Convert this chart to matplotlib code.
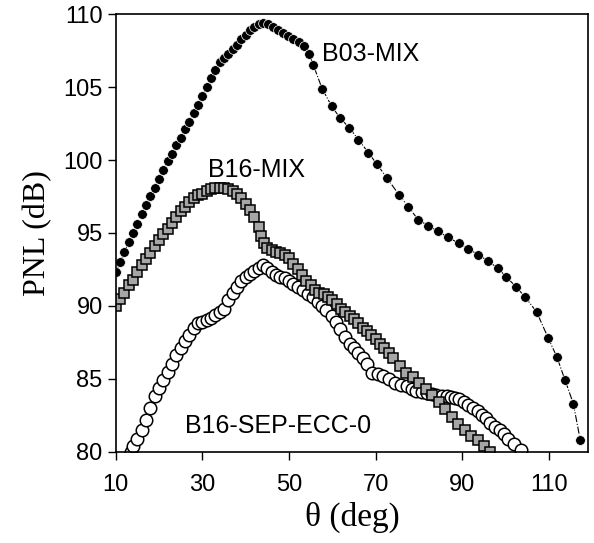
import matplotlib.pyplot as plt

# B03-MIX (filled black circles)
b03_theta = [10, 11, 12, 13, 14, 15, 16, 17, 18, 19, 20, 21, 22, 23, 24, 25, 26, 27, 28, 29,
             30, 31, 32, 33, 34, 35, 36, 37, 38, 39, 40, 41, 42, 43, 44,
             45.2, 46.2, 47.4, 48.6, 49.8, 51, 52.2, 53.4, 54.6, 55.6, 57.6, 59.8, 61.7, 63.9,
             66.0, 68.3, 70.3, 72.5, 75.4, 77.5, 79.8, 82.1, 84.4, 86.7, 89.1, 91.4, 93.7,
             95.8, 98.1, 100.1, 102.4, 104.5, 107.1, 109.8, 111.8, 113.7, 115.6, 117.2]
b03_pnl = [92.3, 93.0, 93.7, 94.4, 95.0, 95.6, 96.3, 96.9, 97.5, 98.1, 98.7, 99.3, 99.9, 100.4,
           101.0, 101.5, 102.1, 102.6, 103.2, 103.8, 104.4, 105.0, 105.6, 106.2, 106.7, 107.0,
           107.3, 107.6, 107.9, 108.3, 108.6, 108.9, 109.1, 109.3, 109.4,
           109.3, 109.1, 108.9, 108.7, 108.5, 108.3, 108.1, 107.8, 107.3, 106.5, 104.9, 103.7,
           102.9, 102.2, 101.4, 100.5, 99.7, 98.8, 97.6, 96.8, 95.9, 95.5, 95.1, 94.7, 94.3,
           93.9, 93.5, 93.1, 92.6, 92.0, 91.3, 90.6, 89.6, 87.8, 86.5, 84.9, 83.3, 80.8]

# B16-MIX (grey squares)
b16_theta = [10, 11, 12, 13, 14, 15, 16, 17, 18, 19, 20, 21, 22, 23, 24, 25, 26, 27, 28, 29,
             30, 31, 32, 33, 34, 35, 36, 37, 38, 39, 40, 41, 42, 43, 43.6, 44.2, 45, 46, 47,
             48, 49, 50, 51, 52, 53, 54, 55, 56, 57, 58, 59, 60, 61, 62, 63, 64, 65, 66, 67,
             68, 69, 70, 71, 72, 73, 74, 75.5, 77, 78.5, 80, 81.5, 83, 84.5, 86, 87.5, 89,
             90.5, 92, 93.5, 95, 96.4]
b16_pnl = [90.0, 90.5, 90.9, 91.4, 91.8, 92.3, 92.8, 93.2, 93.6, 94.1, 94.5, 94.9, 95.3, 95.7,
           96.1, 96.5, 96.8, 97.1, 97.4, 97.6, 97.7, 97.9, 98.0, 98.1, 98.1, 98.1, 98.0, 97.9,
           97.7, 97.4, 97.0, 96.6, 96.1, 95.4, 94.8, 94.3, 94.0, 93.8, 93.7, 93.6, 93.5, 93.3,
           92.9, 92.5, 92.1, 91.7, 91.4, 91.1, 90.9, 90.8, 90.6, 90.4, 90.1, 89.8, 89.6, 89.3,
           89.1, 88.8, 88.5, 88.3, 88.0, 87.7, 87.4, 87.1, 86.8, 86.4, 85.9, 85.4, 85.1, 84.7,
           84.3, 83.9, 83.4, 82.9, 82.4, 81.9, 81.5, 81.1, 80.8, 80.4, 80.0]

# B16-SEP-ECC-0 (open circles)
sep_theta = [13.4, 14, 15, 16, 17, 18, 19, 20, 21, 22, 23, 24, 25, 26, 27, 28, 29, 30, 31, 32,
             33, 34, 35, 36, 37, 38, 39, 40, 41, 42, 43, 44, 45, 46, 47, 48, 49, 50, 51, 52,
             53.3, 54.4, 55.6, 56.6, 57.5, 58.6, 59.8, 60.8, 61.7, 62.8, 64, 65, 66, 67, 67.9,
             69.1, 70.4, 71.7, 73, 74.4, 75.8, 77.1, 78.3, 79.4, 80.6, 81.8, 83, 84, 85.2, 86.4,
             87.4, 88.3, 89.3, 90.3, 91.4, 92.5, 93.5, 94.5, 95.5, 96.4, 97.6, 98.7, 99.7,
             100.6, 102, 103.5]
sep_pnl = [80.0, 80.4, 80.9, 81.5, 82.2, 83.0, 83.8, 84.4, 84.9, 85.5, 86.0, 86.6, 87.1, 87.6,
           88.0, 88.5, 88.8, 88.9, 89.0, 89.2, 89.4, 89.6, 89.8, 90.4, 90.9, 91.3, 91.7, 92.0,
           92.2, 92.4, 92.6, 92.8, 92.6, 92.3, 92.1, 92.0, 91.9, 91.7, 91.5, 91.3, 91.1, 90.8,
           90.6, 90.3, 90.0, 89.7, 89.3, 88.9, 88.4, 87.9, 87.4, 87.1, 86.8, 86.4, 86.0, 85.4,
           85.3, 85.2, 85.0, 84.7, 84.6, 84.5, 84.3, 84.2, 84.1, 84.0, 83.95, 83.9, 83.85, 83.8,
           83.75, 83.7, 83.6, 83.4, 83.2, 83.0, 82.8, 82.5, 82.3, 82.0, 81.7, 81.5, 81.2, 80.9,
           80.5, 80.1]

xticks = [10, 30, 50, 70, 90, 110]
yticks = [80, 85, 90, 95, 100, 105, 110]

plt.rcParams['font.family'] = ['Liberation Sans', 'DejaVu Sans']

fig = plt.figure(figsize=(5.94, 5.43), dpi=100)
ax = fig.add_axes([0.195, 0.168, 0.795, 0.806])

ax.plot(sep_theta, sep_pnl, '-.', color='black', lw=0.8, marker='o', ms=9,
        mfc='white', mec='black', mew=1.1)
ax.plot(b16_theta, b16_pnl, '-.', color='black', lw=0.8, marker='s', ms=7.5,
        mfc='#a6a6a6', mec='black', mew=1.1)
ax.plot(b03_theta, b03_pnl, '-.', color='black', lw=0.8, marker='o', ms=7,
        mfc='black', mec='white', mew=0.5)

ax.text(57.6, 107.3, 'B03-MIX', fontsize=18, va='center', ha='left')
ax.text(31.2, 99.3, 'B16-MIX', fontsize=18, va='center', ha='left')
ax.text(26.0, 81.8, 'B16-SEP-ECC-0', fontsize=18, va='center', ha='left')

ax.set(xlim=(10, 119), ylim=(80, 110), xticks=xticks, yticks=yticks)
ax.tick_params(direction='out', length=6, width=1, labelsize=17, top=False, right=False)
ax.tick_params(axis='x', pad=10)
for s in ax.spines.values():
    s.set_linewidth(1.2)

ax.set_xlabel('θ (deg)', family=['Liberation Serif', 'DejaVu Serif'], fontsize=24, labelpad=4)
ax.set_ylabel('PNL (dB)', family=['Liberation Serif', 'DejaVu Serif'], fontsize=23, labelpad=8)

fig.savefig('out.png', dpi=100)
